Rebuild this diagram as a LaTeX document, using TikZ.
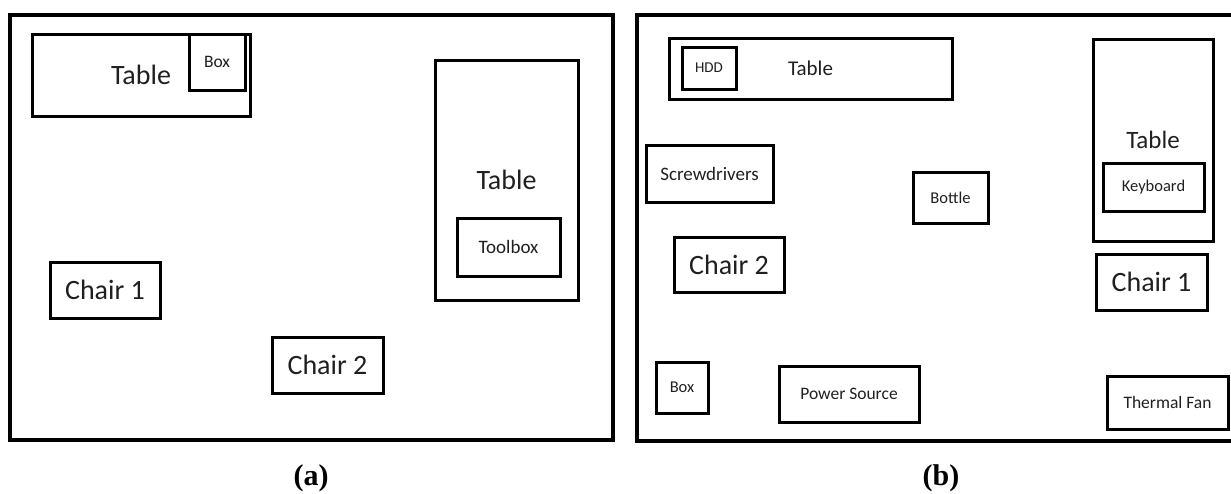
\documentclass[tikz,border=0pt]{standalone}
\usepackage{fontspec}
\setmainfont{Carlito}
\newfontfamily\capfont{Liberation Serif}
\begin{document}
\begin{tikzpicture}[x=1pt,y=-1pt,
  obj/.style={draw, line width=3pt, inner sep=0pt, align=center, text=black!88},
  roomframe/.style={draw, line width=3.4pt, inner sep=0pt},
  fA/.style={font=\fontsize{28}{32}\selectfont},
  fB/.style={font=\fontsize{25}{28}\selectfont},
  fC/.style={font=\fontsize{21}{24}\selectfont},
  fD/.style={font=\fontsize{19}{22}\selectfont},
  fE/.style={font=\fontsize{17.5}{20}\selectfont},
  fF/.style={font=\fontsize{16.5}{19}\selectfont},
  fG/.style={font=\fontsize{15}{18}\selectfont},
  capstyle/.style={font=\capfont\bfseries\fontsize{30}{34}\selectfont, inner sep=0pt}]
\useasboundingbox (0,0) rectangle (1231,493);
% ---------- (a) ----------
\node[roomframe, minimum width=603pt, minimum height=425pt] (frameA) at (311.5,227.5) {};
\node[obj, fA, minimum width=218pt, minimum height=82pt] (tableA1) at (141,75) {Table};
\node[obj, fE, minimum width=56pt, minimum height=56pt] (boxA) at (217,62) {Box};
\node[obj, fA, minimum width=143pt, minimum height=240pt] (tableA2) at (506.5,180) {Table};
\node[obj, fD, minimum width=103pt, minimum height=58pt] (toolbox) at (508.5,247) {Toolbox};
\node[obj, fA, minimum width=110pt, minimum height=56pt] (chair1A) at (105,290) {Chair 1};
\node[obj, fA, minimum width=111pt, minimum height=56pt] (chair2A) at (327.5,365) {Chair 2};
\node[capstyle] (capA) at (311,478) {(a)};
% ---------- (b) ----------
\node[roomframe, minimum width=603pt, minimum height=426pt] (frameB) at (938.5,228) {};
\node[obj, fC, minimum width=283pt, minimum height=61pt] (tableB1) at (810.5,68.5) {Table};
\node[obj, fG, minimum width=54pt, minimum height=42pt] (hdd) at (709,68) {HDD};
\node[obj, fD, minimum width=127pt, minimum height=57pt] (screw) at (709.5,173.5) {Screwdrivers};
\node[obj, fF, minimum width=75pt, minimum height=51pt] (bottle) at (950.5,197.5) {Bottle};
\node[obj, fB, minimum width=120pt, minimum height=202pt] (tableB2) at (1153,140) {Table};
\node[obj, fF, minimum width=101pt, minimum height=48pt] (keyboard) at (1153.5,187) {Keyboard};
\node[obj, fA, minimum width=110pt, minimum height=55pt] (chair2B) at (729,264.5) {Chair 2};
\node[obj, fA, minimum width=111pt, minimum height=56pt] (chair1B) at (1151.5,282) {Chair 1};
\node[obj, fF, minimum width=52pt, minimum height=51pt] (boxB) at (682,387.5) {Box};
\node[obj, fE, minimum width=140pt, minimum height=56pt] (power) at (849,394) {Power Source};
\node[obj, fE, minimum width=121pt, minimum height=53pt] (thermal) at (1167.5,402.5) {Thermal Fan};
\node[capstyle] (capB) at (941,478) {(b)};
\end{tikzpicture}
\end{document}
